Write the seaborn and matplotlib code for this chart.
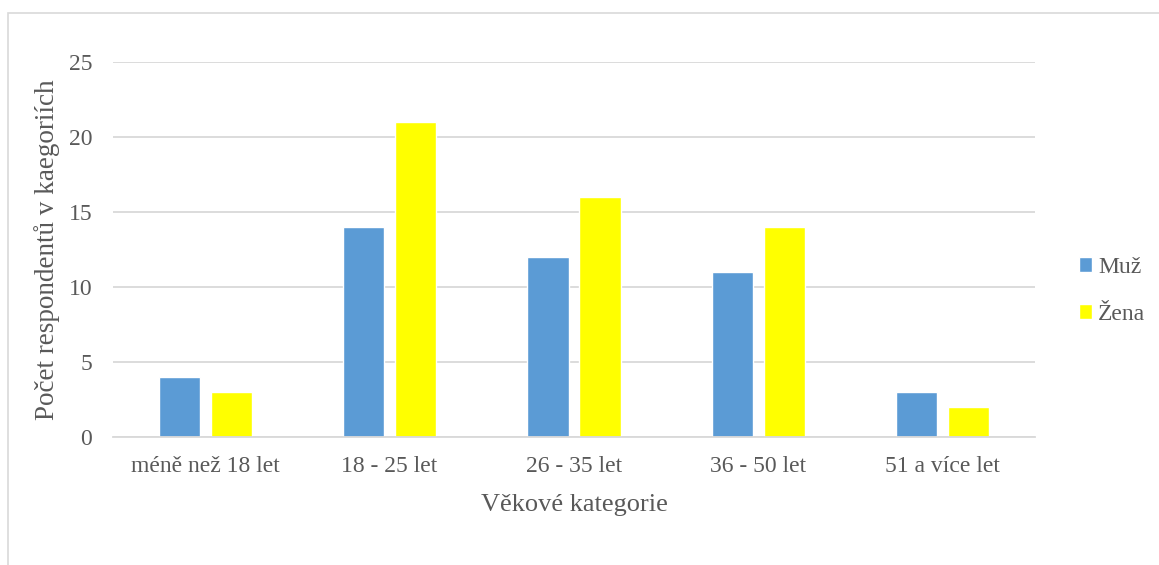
import pandas as pd
import seaborn as sns
import matplotlib.pyplot as plt
from matplotlib.patches import Rectangle

# values
categories = ["méně než 18 let", "18 - 25 let", "26 - 35 let", "36 - 50 let", "51 a více let"]
muz = [4, 14, 12, 11, 3]
zena = [3, 21, 16, 14, 2]
series = ["Muž", "Žena"]
colors = {"Muž": "#5B9BD5", "Žena": "#FFFF00"}

df = pd.DataFrame({
    "kategorie": categories * 2,
    "pohlavi": [series[0]] * len(categories) + [series[1]] * len(categories),
    "pocet": muz + zena,
})

sns.set_theme(style="white")
plt.rcParams['font.family'] = ['Liberation Serif', 'DejaVu Serif']
text_col = "#595959"

fig = plt.figure(figsize=(11.59, 5.65), dpi=100)
ax = fig.add_axes([0.0975, 0.2265, 0.7955, 0.6635])

sns.barplot(data=df, x="kategorie", y="pocet", hue="pohlavi", palette=colors,
            width=0.564, gap=0.21, ax=ax, saturation=1, legend=True)

ax.set_ylim(0, 25)
ax.set_yticks([0, 5, 10, 15, 20, 25])
ax.yaxis.grid(True, color="#D9D9D9", linewidth=1.3)
ax.set_axisbelow(True)
for s in ["top", "right", "left"]:
    ax.spines[s].set_visible(False)
ax.spines["bottom"].set_color("#D9D9D9")
ax.spines["bottom"].set_linewidth(1.3)
ax.tick_params(axis="both", length=0, labelsize=17, colors=text_col)
ax.tick_params(axis="y", pad=15)
ax.tick_params(axis="x", pad=14)

ax.set_xlabel("Věkové kategorie", fontsize=19, color=text_col, labelpad=12)
ax.set_ylabel("Počet respondentů v kaegoriích", fontsize=19.5, color=text_col, labelpad=6)

leg = ax.legend(loc="center left", bbox_to_anchor=(1.025, 0.39), frameon=False,
                fontsize=17, handlelength=0.55, handleheight=0.55, handletextpad=0.25,
                labelspacing=1.1)
for t in leg.get_texts():
    t.set_color(text_col)

# outer chart frame
fig.patches.append(Rectangle((8 / 1159, -0.1), 1.2, 1 - 13 / 565 + 0.1,
                             transform=fig.transFigure, fill=False,
                             edgecolor="#D9D9D9", linewidth=1.2))

fig.savefig("out.png", dpi=100)
